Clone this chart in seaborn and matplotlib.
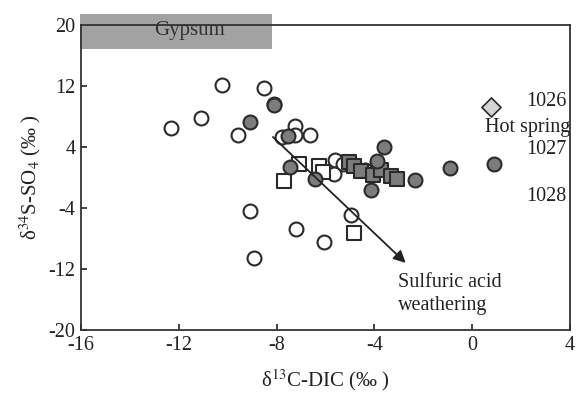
import matplotlib
matplotlib.use("Agg")
import matplotlib.pyplot as plt
import seaborn as sns
import pandas as pd
from matplotlib.patches import Rectangle

# ---- data ----
open_circle_x = [-12.30, -11.11, -10.22, -9.56, -8.50, -7.77, -7.24, -7.24, -6.62,
                 -5.63, -5.28, -5.67, -4.38, -9.09, -7.21, -6.08, -8.91, -4.96]
open_circle_y = [6.45, 7.77, 12.1, 5.63, 11.7, 5.31, 6.76, 5.63, 5.54,
                 2.25, 1.82, 0.51, 1.03, -4.44, -6.71, -8.47, -10.57, -4.9]

gray_circle_x = [-9.10, -8.09, -8.09, -7.53, -7.44, -6.42, -3.60, -3.89, -4.13, -2.34, -0.91, 0.91]
gray_circle_y = [7.28, 9.7, 9.45, 5.44, 1.38, -0.15, 4.0, 2.19, -1.59, -0.28, 1.30, 1.82]

open_square_x = [-7.08, -7.69, -6.26, -6.09, -4.83]
open_square_y = [1.82, -0.41, 1.47, 0.68, -7.26]

gray_square_x = [-5.03, -4.83, -4.56, -4.04, -3.74, -3.31, -3.06]
gray_square_y = [2.03, 1.53, 0.88, 0.29, 0.94, 0.15, -0.15]

hot_spring_x = [0.75]
hot_spring_y = [9.25]

x_ticks = [-16, -12, -8, -4, 0, 4]
y_ticks = [20, 12, 4, -4, -12, -20]

sns.set_theme(style="white")
plt.rcParams['font.family'] = ['Liberation Serif', 'DejaVu Serif']
plt.rcParams['mathtext.fontset'] = 'stix'

fig = plt.figure(figsize=(5.76, 3.93), dpi=100)
ax = fig.add_axes([0.1406, 0.1603, 0.849, 0.776])

def grp(xs, ys):
    return pd.DataFrame({"x": xs, "y": ys})

ms = 100
ec = "#2a2a2a"
sns.scatterplot(data=grp(open_circle_x, open_circle_y), x="x", y="y", ax=ax,
                marker="o", s=ms, facecolor="white", edgecolor=ec, linewidth=1.5, zorder=3)
sns.scatterplot(data=grp(open_square_x, open_square_y), x="x", y="y", ax=ax,
                marker="s", s=ms, facecolor="white", edgecolor=ec, linewidth=1.5, zorder=3)
sns.scatterplot(data=grp(gray_square_x, gray_square_y), x="x", y="y", ax=ax,
                marker="s", s=ms, facecolor="#7c7c7c", edgecolor=ec, linewidth=1.5, zorder=3)
sns.scatterplot(data=grp(gray_circle_x, gray_circle_y), x="x", y="y", ax=ax,
                marker="o", s=ms, facecolor="#7c7c7c", edgecolor=ec, linewidth=1.5, zorder=4)
sns.scatterplot(data=grp(hot_spring_x, hot_spring_y), x="x", y="y", ax=ax,
                marker="D", s=95, facecolor="#d4d4d4", edgecolor=ec, linewidth=1.2, zorder=4)

# gypsum box
ax.add_patch(Rectangle((-16.05, 16.9), 7.85, 4.5, facecolor="#a2a2a2", edgecolor="none",
                       clip_on=False, zorder=1))
ax.text(-11.55, 19.3, "Gypsum", ha="center", va="center", fontsize=15, color="#333333", zorder=2)

# arrow
ax.annotate("", xy=(-2.72, -11.2), xytext=(-8.15, 5.31),
            arrowprops=dict(arrowstyle="-|>", color="#222222", lw=1.3,
                            mutation_scale=18, shrinkA=0, shrinkB=0), zorder=5)
ax.text(-3.05, -13.8, "Sulfuric acid", ha="left", va="center", fontsize=14.5, color="#222222")
ax.text(-3.05, -16.8, "weathering", ha="left", va="center", fontsize=14.5, color="#222222")

ax.text(3.05, 10.0, "1026", ha="center", va="center", fontsize=14.5, color="#222222")
ax.text(2.28, 6.6, "Hot spring", ha="center", va="center", fontsize=14.5, color="#222222")
ax.text(3.05, 3.7, "1027", ha="center", va="center", fontsize=14.5, color="#222222")
ax.text(3.05, -2.5, "1028", ha="center", va="center", fontsize=14.5, color="#222222")

ax.set_xlim(-16, 4)
ax.set_ylim(-20, 20)
ax.set_xticks(x_ticks)
ax.set_yticks(y_ticks)
ax.set_xticklabels([str(t) for t in x_ticks])
ax.set_yticklabels([str(t) for t in y_ticks])
ax.tick_params(axis="both", direction="in", length=4, width=1.2, labelsize=14.5,
               colors="#222222", bottom=True, left=True, top=False, right=False, pad=4)
for sp in ax.spines.values():
    sp.set_color("#333333")
    sp.set_linewidth(1.3)
ax.set_xlabel("δ$^{13}$C-DIC (‰ )", fontsize=15, color="#222222", labelpad=9)
ax.set_ylabel("δ$^{34}$S-SO$_4$ (‰ )", fontsize=15, color="#222222", labelpad=4)
ax.grid(False)

fig.savefig("out.png", dpi=100)
